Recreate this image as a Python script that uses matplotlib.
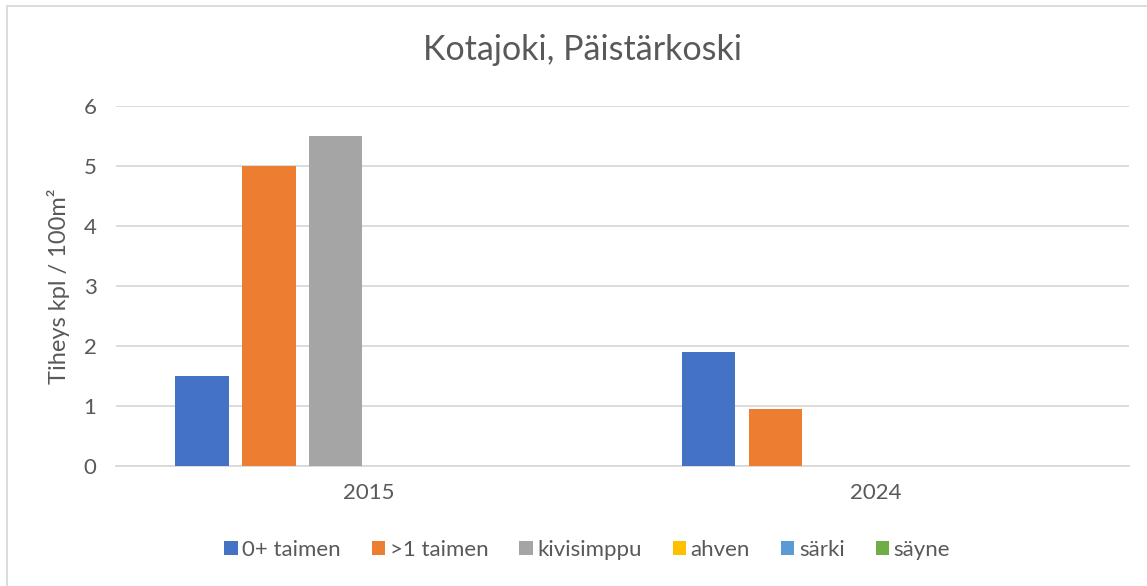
import numpy as np
import matplotlib.pyplot as plt
from matplotlib.patches import Rectangle

plt.rcParams['font.family'] = ['Lato', 'DejaVu Sans']

years = ['2015', '2024']
species = ['0+ taimen', '>1 taimen', 'kivisimppu', 'ahven', 'särki', 'säyne']
taimen_0 = [1.5, 1.9]
taimen_1 = [5.0, 0.95]
kivisimppu = [5.5, 0.0]
ahven = [0.0, 0.0]
sarki = [0.0, 0.0]
sayne = [0.0, 0.0]
colors = ['#4472C4', '#ED7D31', '#A5A5A5', '#FFC000', '#5B9BD5', '#70AD47']

series = [taimen_0, taimen_1, kivisimppu, ahven, sarki, sayne]
text_col = '#595959'

fig = plt.figure(figsize=(11.47, 5.86), dpi=100)
ax = fig.add_axes([0.1011, 0.2048, 0.8832, 0.6143])

x = np.arange(len(years))
step = 0.132
width = 0.105
for i, (vals, name, c) in enumerate(zip(series, species, colors)):
    ax.bar(x + (i - 2.5) * step, vals, width, color=c, label=name, zorder=3)

ax.set_xlim(-0.5, 1.5)
ax.set_ylim(0, 6)
ax.set_yticks(range(0, 7))
ax.set_xticks(x)
ax.set_xticklabels(years)
ax.tick_params(length=0, labelsize=16, colors=text_col)
ax.tick_params(axis='y', pad=14)
ax.tick_params(axis='x', pad=12)
ax.grid(axis='y', color='#d9d9d9', linewidth=1.3, zorder=0)
for s in ['top', 'right', 'left']:
    ax.spines[s].set_visible(False)
ax.spines['bottom'].set_color('#d9d9d9')
ax.spines['bottom'].set_linewidth(1.3)
ax.set_ylabel('Tiheys kpl / 100m²', fontsize=17, color=text_col, labelpad=10)

fig.text(0.508, 0.915, 'Kotajoki, Päistärkoski', fontsize=24.5, color=text_col,
         ha='center', va='center')

fig.legend(loc='center', bbox_to_anchor=(0.512, 0.0614), ncol=6, frameon=False,
           fontsize=16, handlelength=0.6, handleheight=0.6, handletextpad=0.2,
           columnspacing=1.4, labelcolor=text_col)

fig.patches.append(Rectangle((6.5 / 1147, -0.1), 1.2, 1 - 5.5 / 586 + 0.1,
                             transform=fig.transFigure, fill=False,
                             edgecolor='#d9d9d9', linewidth=1.3))

fig.savefig('out.png', dpi=100)
